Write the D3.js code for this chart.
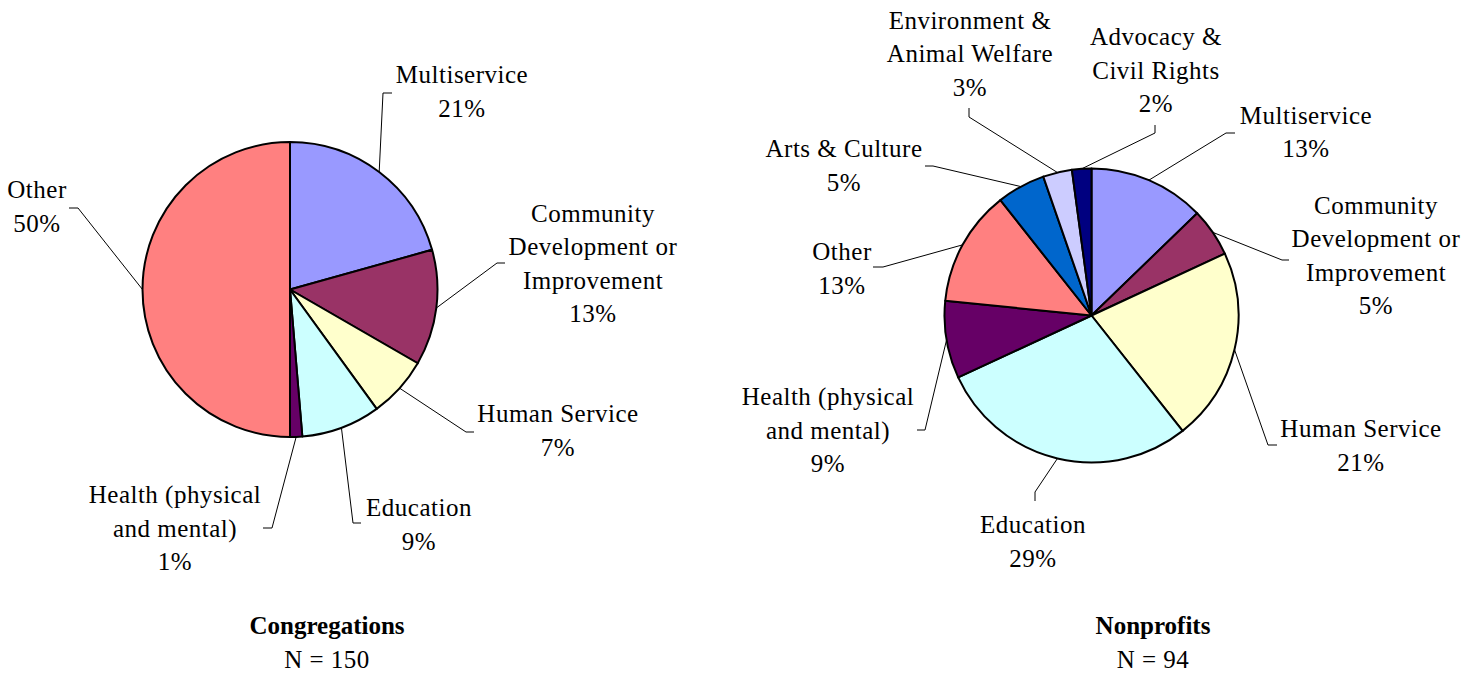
<!DOCTYPE html>
<html>
<head>
<meta charset="utf-8">
<script src="https://cdn.jsdelivr.net/npm/d3@7"></script>
<style>
  html, body { margin: 0; padding: 0; background: #fff; }
  svg { display: block; }
</style>
</head>
<body>
<svg id="chart" width="1480" height="675" font-family="'Liberation Serif', 'Times New Roman', Times, 'DejaVu Serif', serif"></svg>
<script>
// ---- data -------------------------------------------------------------
// Number of organizations per primary program area.
const congregationCategories = [
  "Multiservice", "Community Development or Improvement", "Human Service",
  "Education", "Health (physical and mental)", "Other"
];
const congregationCounts = [31, 19, 10, 13, 2, 75];

const nonprofitCategories = [
  "Multiservice", "Community Development or Improvement", "Human Service",
  "Education", "Health (physical and mental)", "Other", "Arts & Culture",
  "Environment & Animal Welfare", "Advocacy & Civil Rights"
];
const nonprofitCounts = [12, 5, 20, 27, 8, 12, 5, 3, 2];

// How each category name wraps inside its label
const congregationLabelLines = [
  ["Multiservice"],
  ["Community", "Development or", "Improvement"],
  ["Human Service"],
  ["Education"],
  ["Health (physical", "and mental)"],
  ["Other"]
];
const nonprofitLabelLines = [
  ["Multiservice"],
  ["Community", "Development or", "Improvement"],
  ["Human Service"],
  ["Education"],
  ["Health (physical", "and mental)"],
  ["Other"],
  ["Arts & Culture"],
  ["Environment &", "Animal Welfare"],
  ["Advocacy &", "Civil Rights"]
];

const panelTitles = ["Congregations", "Nonprofits"];

// ---- styling ------------------------------------------------------------
const colorByCategory = {
  "Multiservice": "#9999FF",
  "Community Development or Improvement": "#993366",
  "Human Service": "#FFFFCC",
  "Education": "#CCFFFF",
  "Health (physical and mental)": "#660066",
  "Other": "#FF8080",
  "Arts & Culture": "#0066CC",
  "Environment & Animal Welfare": "#CCCCFF",
  "Advocacy & Civil Rights": "#000080"
};

const FONT_SIZE = 25;
const LETTER_SPACING = 0.5;
const LINE_GAP = 33.5;

// Label placement: text centre / first baseline, then the leader elbow and
// the end of its short tick (page coordinates).
const congregationLabelLayout = [
  { x: 462, y: 83,    elbow: [383, 93],  tick: [392, 93] },
  { x: 593, y: 221.5, elbow: [497, 263], tick: [505, 263] },
  { x: 558, y: 422,   elbow: [466, 432], tick: [474, 432] },
  { x: 419, y: 516,   elbow: [353, 523], tick: [361, 523] },
  { x: 175, y: 503,   elbow: [272, 528], tick: [263, 528] },
  { x: 37,  y: 198,   elbow: [78, 208],  tick: [69, 208] }
];
const nonprofitLabelLayout = [
  { x: 1306, y: 123.5, elbow: [1226, 133], tick: [1235, 133] },
  { x: 1376, y: 213.5, elbow: [1282, 260], tick: [1289, 260] },
  { x: 1361, y: 437,   elbow: [1268, 445], tick: [1277, 445] },
  { x: 1033, y: 533,   elbow: [1035, 492], tick: [1035, 501] },
  { x: 828,  y: 405,   elbow: [925, 430],  tick: [917, 430] },
  { x: 842,  y: 260,   elbow: [883, 267],  tick: [873, 267] },
  { x: 844,  y: 157,   elbow: [933, 166],  tick: [925, 166] },
  { x: 970,  y: 28.5,  elbow: [969, 117],  tick: [969, 108] },
  { x: 1156, y: 45,    elbow: [1155, 133], tick: [1155, 125] }
];

const panels = [
  { title: panelTitles[0], categories: congregationCategories, counts: congregationCounts,
    lines: congregationLabelLines, layout: congregationLabelLayout,
    cx: 290, cy: 289.5, r: 147.5, titleX: 327 },
  { title: panelTitles[1], categories: nonprofitCategories, counts: nonprofitCounts,
    lines: nonprofitLabelLines, layout: nonprofitLabelLayout,
    cx: 1091.5, cy: 315.5, r: 147, titleX: 1153 }
];

// ---- drawing --------------------------------------------------------------
const svg = d3.select("#chart");

const pie = d3.pie().sort(null).value(d => d.count)
  .startAngle(0).endAngle(2 * Math.PI);

panels.forEach(p => {
  const total = d3.sum(p.counts);
  const rows = p.counts.map((count, i) => ({
    category: p.categories[i], count,
    pct: Math.round(count / total * 100),
    lines: p.lines[i], layout: p.layout[i]
  }));
  const arcs = pie(rows);

  const arc = d3.arc().innerRadius(0).outerRadius(p.r);
  const rim = d3.arc().innerRadius(p.r).outerRadius(p.r);

  const g = svg.append("g");
  const pieG = g.append("g").attr("transform", `translate(${p.cx},${p.cy})`);

  // Leader lines: from the rim at the slice's middle angle to the label
  const leader = d3.line();
  g.append("g").selectAll("path")
    .data(arcs)
    .join("path")
    .attr("d", d => {
      const [ex, ey] = rim.centroid(d);
      return leader([[p.cx + ex, p.cy + ey], d.data.layout.elbow, d.data.layout.tick]);
    })
    .attr("fill", "none")
    .attr("stroke", "#000")
    .attr("stroke-width", 1);

  // Slices
  pieG.selectAll("path")
    .data(arcs)
    .join("path")
    .attr("d", arc)
    .attr("fill", d => colorByCategory[d.data.category])
    .attr("stroke", "#000")
    .attr("stroke-width", 2)
    .attr("stroke-linejoin", "round");

  // Category and percentage labels
  const labels = g.append("g").selectAll("text")
    .data(arcs)
    .join("text")
    .attr("text-anchor", "middle")
    .attr("font-size", FONT_SIZE)
    .attr("letter-spacing", LETTER_SPACING)
    .attr("fill", "#000")
    .attr("x", d => d.data.layout.x)
    .attr("y", d => d.data.layout.y);

  labels.each(function (d) {
    const t = d3.select(this);
    const all = d.data.lines.concat([d.data.pct + "%"]);
    all.forEach((line, i) => {
      t.append("tspan")
        .attr("x", d.data.layout.x)
        .attr("y", d.data.layout.y + i * LINE_GAP)
        .text(line);
    });
  });

  // Panel caption
  g.append("text")
    .attr("x", p.titleX).attr("y", 634)
    .attr("text-anchor", "middle")
    .attr("font-size", FONT_SIZE)
    .attr("font-weight", "bold")
    .attr("fill", "#000")
    .text(p.title);
  g.append("text")
    .attr("x", p.titleX).attr("y", 668)
    .attr("text-anchor", "middle")
    .attr("font-size", FONT_SIZE)
    .attr("letter-spacing", LETTER_SPACING)
    .attr("fill", "#000")
    .text("N = " + total);
});
</script>
</body>
</html>
